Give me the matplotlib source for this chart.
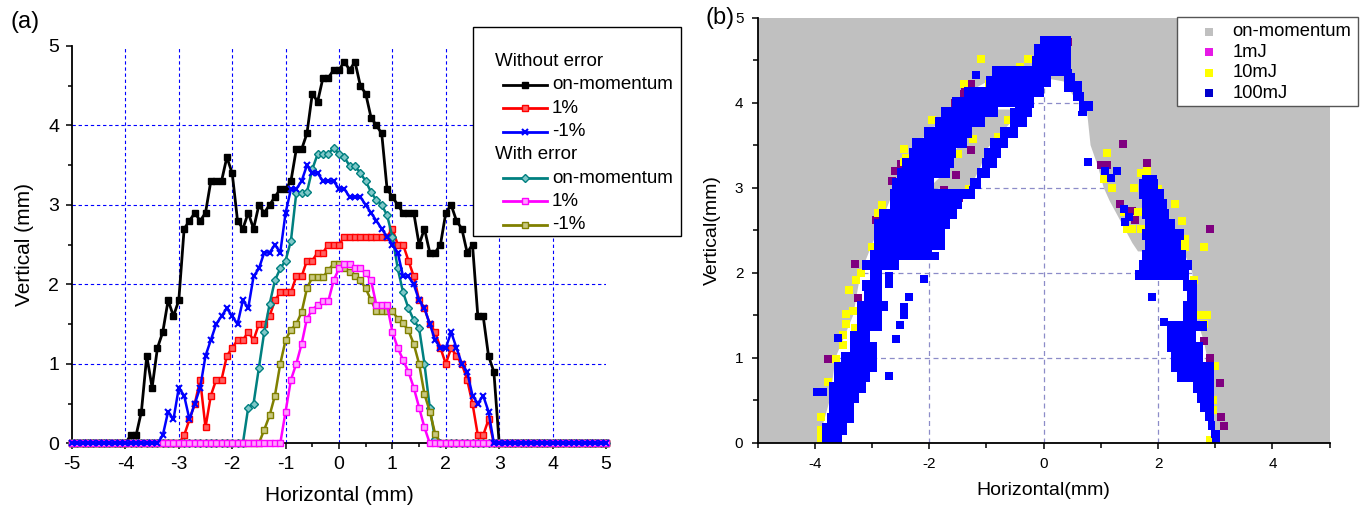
import numpy as np
import matplotlib
matplotlib.use("Agg")
import matplotlib.pyplot as plt
from matplotlib.lines import Line2D
from matplotlib.offsetbox import AnchoredOffsetbox, VPacker, HPacker, TextArea, DrawingArea

plt.rcParams['font.family'] = ['Liberation Sans', 'DejaVu Sans']
plt.rcParams['axes.unicode_minus'] = False

DPI = 100
W, H = 1366, 516

# ---------------- Panel (a) data ----------------
X_STEP = 0.1
x_a = np.round(np.arange(-50, 51) * X_STEP, 1)

no_err_on = [0, 0, 0, 0, 0, 0, 0, 0, 0, 0, 0,
             0.1, 0.1, 0.4, 1.1, 0.7, 1.2, 1.4, 1.8, 1.6, 1.8,
             2.7, 2.8, 2.9, 2.8, 2.9, 3.3, 3.3, 3.3, 3.6, 3.4,
             2.8, 2.7, 2.9, 2.7, 3.0, 2.9, 3.0, 3.1, 3.2, 3.2,
             3.3, 3.7, 3.7, 3.9, 4.4, 4.3, 4.6, 4.6, 4.7, 4.7,
             4.8, 4.7, 4.8, 4.5, 4.4, 4.1, 4.0, 3.9, 3.2, 3.1,
             3.0, 2.9, 2.9, 2.9, 2.5, 2.7, 2.4, 2.4, 2.5, 2.9,
             3.0, 2.8, 2.7, 2.4, 2.5, 1.6, 1.6, 1.1, 0.9, 0.0,
             0, 0, 0, 0, 0, 0, 0, 0, 0, 0,
             0, 0, 0, 0, 0, 0, 0, 0, 0, 0]

no_err_p1 = [0, 0, 0, 0, 0, 0, 0, 0, 0, 0, 0,
             0, 0, 0, 0, 0, 0, 0, 0, 0, 0,
             0.1, 0.3, 0.5, 0.8, 0.2, 0.6, 0.8, 0.8, 1.1, 1.2,
             1.3, 1.3, 1.4, 1.3, 1.5, 1.5, 1.6, 1.8, 1.9, 1.9,
             1.9, 2.1, 2.1, 2.3, 2.3, 2.4, 2.4, 2.5, 2.5, 2.5,
             2.6, 2.6, 2.6, 2.6, 2.6, 2.6, 2.6, 2.6, 2.6, 2.7,
             2.5, 2.5, 2.3, 2.1, 1.8, 1.7, 1.5, 1.4, 1.2, 1.0,
             1.2, 1.1, 1.0, 0.8, 0.5, 0.1, 0.1, 0.3, 0.0, 0.0,
             0, 0, 0, 0, 0, 0, 0, 0, 0, 0,
             0, 0, 0, 0, 0, 0, 0, 0, 0, 0]

no_err_m1 = [0, 0, 0, 0, 0, 0, 0, 0, 0, 0, 0,
             0, 0, 0, 0, 0, 0, 0.1, 0.4, 0.3, 0.7,
             0.6, 0.3, 0.5, 0.7, 1.1, 1.3, 1.5, 1.6, 1.7, 1.6,
             1.5, 1.8, 1.7, 2.1, 2.2, 2.4, 2.4, 2.5, 2.4, 2.9,
             3.2, 3.2, 3.3, 3.5, 3.4, 3.4, 3.3, 3.3, 3.3, 3.2,
             3.2, 3.1, 3.1, 3.1, 3.0, 2.9, 2.8, 2.7, 2.6, 2.5,
             2.4, 2.1, 2.1, 2.0, 1.8, 1.7, 1.5, 1.3, 1.2, 1.2,
             1.4, 1.2, 1.0, 0.9, 0.6, 0.5, 0.6, 0.4, 0.0, 0.0,
             0, 0, 0, 0, 0, 0, 0, 0, 0, 0,
             0, 0, 0, 0, 0, 0, 0, 0, 0, 0]

err_on = [0, 0, 0, 0, 0, 0, 0, 0, 0, 0, 0,
          0, 0, 0, 0, 0, 0, 0, 0, 0, 0,
          0, 0, 0, 0, 0, 0, 0, 0, 0, 0,
          0, 0, 0.45, 0.5, 0.95, 1.4, 1.75, 2.05, 2.2, 2.3,
          2.55, 3.15, 3.15, 3.16, 3.45, 3.64, 3.64, 3.64, 3.72, 3.64,
          3.6, 3.49, 3.49, 3.4, 3.3, 3.16, 3.06, 3.0, 2.87, 2.6,
          2.2, 1.9, 1.7, 1.55, 1.45, 1.0, 0.45, 0.05, 0, 0,
          0, 0, 0, 0, 0, 0, 0, 0, 0, 0,
          0, 0, 0, 0, 0, 0, 0, 0, 0, 0,
          0, 0, 0, 0, 0, 0, 0, 0, 0, 0]

err_p1 = [0, 0, 0, 0, 0, 0, 0, 0, 0, 0, 0,
          0, 0, 0, 0, 0, 0, 0, 0, 0, 0,
          0, 0, 0, 0, 0, 0, 0, 0, 0, 0,
          0, 0, 0, 0, 0, 0, 0, 0, 0, 0.4,
          0.8, 1.0, 1.25, 1.57, 1.68, 1.74, 1.79, 1.79, 2.05, 2.2,
          2.26, 2.26, 2.21, 2.2, 2.14, 2.05, 1.74, 1.74, 1.74, 1.4,
          1.2, 1.05, 0.9, 0.7, 0.45, 0.2, 0, 0, 0, 0,
          0, 0, 0, 0, 0, 0, 0, 0, 0, 0,
          0, 0, 0, 0, 0, 0, 0, 0, 0, 0,
          0, 0, 0, 0, 0, 0, 0, 0, 0, 0]

err_m1 = [0, 0, 0, 0, 0, 0, 0, 0, 0, 0, 0,
          0, 0, 0, 0, 0, 0, 0, 0, 0, 0,
          0, 0, 0, 0, 0, 0, 0, 0, 0, 0,
          0, 0, 0, 0, 0, 0.17, 0.35, 0.6, 1.0, 1.3,
          1.43, 1.5, 1.65, 1.95, 2.09, 2.09, 2.09, 2.18, 2.26, 2.26,
          2.2, 2.15, 2.1, 2.05, 1.95, 1.8, 1.66, 1.66, 1.66, 1.66,
          1.57, 1.51, 1.42, 1.25, 1.0, 0.62, 0.4, 0.12, 0, 0,
          0, 0, 0, 0, 0, 0, 0, 0, 0, 0,
          0, 0, 0, 0, 0, 0, 0, 0, 0, 0,
          0, 0, 0, 0, 0, 0, 0, 0, 0, 0]

series_a = [
    # label, data, color, marker, mfc, zorder
    ("on-momentum", no_err_on, "#000000", "s", "#000000", 3.0),
    ("1%", no_err_p1, "#ff0000", "s", "#ff6060", 3.1),
    ("-1%", no_err_m1, "#0000ff", "x", "#0000ff", 3.7),
    ("on-momentum", err_on, "#008080", "D", "#7fc8c8", 3.2),
    ("1%", err_p1, "#ff00ff", "s", "#ffa0ff", 3.6),
    ("-1%", err_m1, "#808000", "s", "#c8c880", 3.3),
]
legend_a_rows = [("Without error", None), ("on-momentum", 0), ("1%", 1), ("-1%", 2),
                 ("With error", None), ("on-momentum", 3), ("1%", 4), ("-1%", 5)]

# ---------------- Panel (b) data ----------------
SCAN_X = [-5.0, 5.0]
SCAN_Y = [0.0, 5.0]

STABLE_X = [-3.95, -3.74, -3.64, -3.33, -3.2, -2.9, -2.6, -2.25, -2.0, -1.8, -1.5,
            -1.25, -0.85, -0.2, 0.1,
            0.35, 0.55, 0.75, 0.82, 0.95, 1.05, 1.15, 1.35, 1.55, 1.65, 2.45, 2.6,
            2.65, 2.8, 2.92, 2.94, 2.98]
STABLE_Y = [0.0, 0.5, 1.0, 1.5, 2.0, 2.5, 3.0, 3.5, 3.65, 3.8, 4.0,
            4.15, 4.3, 4.33, 4.28,
            4.25, 4.05, 3.95, 3.5, 3.25, 3.0, 2.85, 2.6, 2.35, 2.25, 2.25, 2.0,
            1.5, 1.2, 0.8, 0.4, 0.0]

ISLAND_X = [-2.0, -1.7, -1.6, -1.4, -1.3, -1.1, -0.85, -0.55, -0.6, -0.8, -1.0, -1.1, -1.25, -1.3]
ISLAND_Y = [3.0, 3.2, 3.4, 3.55, 3.7, 3.8, 3.92, 3.92, 3.75, 3.6, 3.45, 3.25, 3.05, 2.95]

LB_Y = [0.0, 0.17, 0.29, 0.41, 0.53, 0.65, 0.77, 0.89, 1.01, 1.13, 1.25, 1.37, 1.49, 1.61,
        1.73, 1.85, 1.97, 2.09, 2.21, 2.33, 2.45, 2.57, 2.69, 2.81, 2.93, 3.05, 3.17,
        3.29, 3.41, 3.53, 3.65, 3.77, 3.89, 4.01, 4.13, 4.25, 4.37, 4.49, 4.61, 4.78]
LB_XL = [-3.87, -3.87, -3.78, -3.75, -3.75, -3.75, -3.67, -3.67, -3.55, -3.38, -3.38, -3.26,
         -3.26, -3.26, -3.14, -3.17, -3.03, -3.17, -3.03, -2.97, -2.97, -2.97, -2.88, -2.68,
         -2.68, -2.65, -2.56, -2.48, -2.36, -2.3, -2.1, -1.9, -1.8, -1.6, -1.4, -1.0, -0.9,
         -0.2, -0.16, -0.06]
LB_XR = [-3.52, -3.44, -3.32, -3.32, -3.23, -3.11, -3.03, -2.91, -2.91, -2.91, -3.03, -2.82,
         -2.82, -2.73, -2.82, -2.82, -2.82, -2.53, -1.95, -1.72, -1.72, -1.63, -1.51, -1.42,
         -1.2, -1.92, -1.63, -1.57, -1.54, -1.34, -1.25, -1.03, -0.79, -0.16, 0.0, 0.12,
         0.47, 0.47, 0.47, 0.47]

IL_Y = [2.99, 3.05, 3.17, 3.29, 3.41, 3.53, 3.65, 3.77, 3.89, 3.98]
IL_XL = [-1.3, -1.28, -1.16, -1.08, -1.04, -0.93, -0.76, -0.58, -0.58, -0.5]
IL_XR = [-1.1, -1.1, -0.93, -0.81, -0.74, -0.62, -0.44, -0.29, -0.2, -0.16]

RC_Y = [3.84, 3.96, 4.07, 4.19, 4.31, 4.4]
RC_XL = [0.6, 0.61, 0.52, 0.35, 0.35, 0.35]
RC_XR = [0.76, 0.87, 0.7, 0.67, 0.55, 0.5]

RB_Y = [0.0, 0.1, 0.2, 0.31, 0.41, 0.53, 0.65, 0.77, 0.89, 1.01, 1.13, 1.25, 1.37, 1.49,
        1.61, 1.73, 1.85, 1.97, 2.09, 2.21, 2.33, 2.45, 2.57, 2.69, 2.81, 2.93, 3.05, 3.15]
RB_XL = [2.94, 2.94, 2.88, 2.82, 2.74, 2.68, 2.62, 2.33, 2.22, 2.22, 2.16, 2.16, 2.16, 2.44,
         2.44, 2.5, 2.44, 1.6, 1.66, 1.72, 1.77, 1.72, 1.77, 1.72, 1.72, 1.66, 1.66, 1.72]
RB_XR = [3.09, 3.09, 3.0, 2.97, 2.97, 2.97, 2.97, 2.97, 2.97, 2.79, 2.79, 2.67, 2.85, 2.68,
         2.68, 2.68, 2.68, 2.55, 2.6, 2.49, 2.4, 2.45, 2.3, 2.2, 2.15, 2.1, 2.0, 1.98]

BLUE_X = [-3.97, -3.85, -3.6, -2.7, -2.59, -2.52, -2.45, -2.45, -2.35, -2.7, -2.7, -2.1,
          -1.9, -1.19, 0.78, 1.08, 1.17, 1.28, 1.4, 1.5, 1.43, 2.1, 1.9, 3.0]
BLUE_Y = [0.6, 0.6, 1.23, 0.79, 1.22, 1.38, 1.5, 1.6, 1.72, 1.87, 1.96, 1.93,
          2.2, 4.32, 3.3, 3.2, 3.12, 3.2, 2.75, 2.65, 2.6, 1.42, 1.72, 0.1]

YELLOW_X = [-3.9, -3.9, -3.76, -3.9, -3.77, -3.63, -3.5, -3.5, -3.45, -3.45, -3.33, -3.3,
            -3.4, -3.28, -3.2, -3.0, -2.9, -2.83, -2.52, -2.45, -2.4, -2.45, -2.03, -1.95,
            -2.0, -1.39, -1.1, -1.1, -0.95, -0.42, -0.28, -1.22, -1.33, -1.24, -0.8, -0.63,
            -1.5, -1.3, -1.56, -1.82, -1.72,
            1.1, 1.7, 1.8, 1.06, 1.2, 1.58, 1.9, 2.0, 1.4, 1.65, 2.3, 1.45, 1.55, 1.7,
            2.42, 2.47, 2.47, 2.8, 2.63, 2.73, 2.85, 2.8, 2.9, 3.0, 2.96, 2.96, 2.9]
YELLOW_Y = [0.05, 0.15, 0.1, 0.3, 0.72, 0.99, 1.15, 1.27, 1.4, 1.52, 1.55, 1.35,
            1.8, 1.92, 2.0, 2.3, 2.7, 2.8, 2.95, 3.45, 3.35, 3.3, 3.62, 3.8,
            3.6, 4.22, 4.51, 4.1, 4.22, 4.42, 4.52, 4.02, 3.9, 3.57, 3.6, 3.8,
            3.4, 2.98, 2.85, 2.8, 2.78,
            3.41, 3.17, 3.2, 3.1, 3.0, 3.0, 2.98, 2.98, 2.71, 2.71, 2.81, 2.51, 2.51, 2.51,
            2.61, 2.4, 2.3, 2.3, 1.91, 1.5, 1.5, 1.4, 0.9, 0.9, 0.5, 0.38, 0.03]

PURPLE_X = [-3.77, -3.24, -3.3, -2.93, -2.66, -2.6, -2.5, -1.5, -1.38, -1.27, -1.39, -1.55,
            -1.27, -1.53, -1.75, -1.48, -2.5, 0.15, 0.42,
            1.39, 1.0, 1.1, 1.81, 1.34, 1.55, 1.6, 2.9, 2.78, 2.8, 2.9, 3.08, 3.1, 3.15]
PURPLE_Y = [0.99, 1.7, 2.1, 2.62, 3.08, 3.2, 3.28, 4.0, 4.13, 4.22, 4.1, 4.0,
            3.44, 3.15, 2.97, 2.88, 3.17, 4.72, 4.72,
            3.51, 3.27, 3.27, 3.29, 2.81, 2.72, 2.62, 2.51, 1.5, 1.2, 1.0, 0.7, 0.3, 0.2]

legend_b = [("on-momentum", "#c0c0c0"), ("1mJ", "#e619e6"), ("10mJ", "#ffff00"), ("100mJ", "#0000cc")]

GRAY = "#c0c0c0"
BLUE = "#0000ff"
YELLOW = "#ffff00"
PURPLE = "#800080"


def pt(px):
    return px * 72.0 / DPI


fig = plt.figure(figsize=(W / DPI, H / DPI), dpi=DPI)
fig.patch.set_facecolor("white")

# ======================= Panel (a) =======================
ax1 = fig.add_axes([72 / W, (H - 443.3) / H, (606 - 72) / W, (443.3 - 46) / H])
for gx in range(-4, 5):
    ax1.axvline(gx, color="#0000ff", lw=0.8, ls=(0, (3, 2.5)), zorder=1)
for gy in range(1, 5):
    ax1.axhline(gy, color="#0000ff", lw=0.8, ls=(0, (3, 2.5)), zorder=1)

for lab, data, col, mk, mfc, zo in series_a:
    lw = 2.0 if col == "#000000" else 1.8
    ax1.plot(x_a, data, color=col, lw=lw, marker=mk, ms=4.0 if mk != "x" else 4.6,
             mfc=mfc, mec=col, mew=1.0 if mk != "x" else 1.5, zorder=zo, clip_on=False)

ax1.set_xlim(-5, 5)
ax1.set_ylim(0, 5)
ax1.set_xticks(range(-5, 6))
ax1.set_xticks(np.arange(-5, 5.01, 0.5), minor=True)
ax1.set_yticks(range(0, 6))
ax1.set_yticks(np.arange(0, 5.01, 0.5), minor=True)
ax1.tick_params(which="major", length=pt(6), width=1.1, direction="out", labelsize=14, pad=5)
ax1.tick_params(which="minor", length=pt(4), width=1.1, direction="out")
for s in ["top", "right"]:
    ax1.spines[s].set_visible(False)
for s in ["left", "bottom"]:
    ax1.spines[s].set_linewidth(1.3)
ax1.set_xlabel("Horizontal (mm)", fontsize=15, labelpad=9)
ax1.set_ylabel("Vertical (mm)", fontsize=15, labelpad=10)

# custom legend for (a)
fs_a = 13.5
row_h = pt(23.3)
rows = [DrawingArea(1, pt(23), 0, 0)]
for lab, idx in legend_a_rows:
    if idx is None:
        rows.append(HPacker(children=[DrawingArea(pt(22), row_h, 0, 0),
                                      TextArea(lab, textprops=dict(fontsize=fs_a))],
                            align="center", pad=0, sep=0))
    else:
        _, _, col, mk, mfc, _ = series_a[idx]
        hl = pt(44)
        da = DrawingArea(hl, row_h, 0, 0)
        da.add_artist(Line2D([0, hl], [row_h / 2, row_h / 2], color=col, lw=2.0))
        da.add_artist(Line2D([hl / 2], [row_h / 2], color=col, marker=mk, ms=4.2,
                             mfc=mfc, mec=col, mew=1.0 if mk != "x" else 1.5, ls="none"))
        rows.append(HPacker(children=[DrawingArea(pt(30), row_h, 0, 0), da,
                                      DrawingArea(pt(5), row_h, 0, 0),
                                      TextArea(lab, textprops=dict(fontsize=fs_a)),
                                      DrawingArea(pt(8), row_h, 0, 0)],
                            align="center", pad=0, sep=0))
box_a = VPacker(children=rows, align="left", pad=0, sep=0)
anch_a = AnchoredOffsetbox(loc="upper left", child=box_a, pad=0, borderpad=0, frameon=True,
                           bbox_to_anchor=(473 / W, 1 - 27 / H), bbox_transform=fig.transFigure)
anch_a.patch.set_edgecolor("black")
anch_a.patch.set_linewidth(1.0)
anch_a.patch.set_facecolor("white")
anch_a.set_zorder(10)
ax1.add_artist(anch_a)

fig.text(25 / W, 1 - 22 / H, "(a)", fontsize=17, ha="center", va="center")

# ======================= Panel (b) =======================
ax2 = fig.add_axes([757.7 / W, (H - 442.7) / H, (1329.6 - 757.7) / W, (442.7 - 17.7) / H])
ax2.set_xlim(-5, 5)
ax2.set_ylim(0, 5)

# on-momentum lost region (gray) = scan area minus stable region
ax2.fill_between(SCAN_X, SCAN_Y[0], SCAN_Y[1], color=GRAY, lw=0, zorder=0.5)
stable = ax2.fill(STABLE_X, STABLE_Y, color="white", lw=0, zorder=0.6)[0]
for gx in [-2, 0, 2]:
    ln = ax2.axvline(gx, color="#8c8cc8", lw=0.9, ls=(0, (4, 3)), zorder=0.7)
    ln.set_clip_path(stable)
for gy in [1, 2, 3, 4]:
    ln = ax2.axhline(gy, color="#8c8cc8", lw=0.9, ls=(0, (4, 3)), zorder=0.7)
    ln.set_clip_path(stable)
ax2.fill(ISLAND_X, ISLAND_Y, color=GRAY, lw=0, zorder=0.8)

msq = pt(8.5)
ax2.plot(PURPLE_X, PURPLE_Y, ls="none", marker="s", ms=msq, mfc=PURPLE, mew=0, zorder=2.0)
ax2.plot(YELLOW_X, YELLOW_Y, ls="none", marker="s", ms=msq, mfc=YELLOW, mew=0, zorder=2.1)
for yy, xl, xr in [(LB_Y, LB_XL, LB_XR), (IL_Y, IL_XL, IL_XR), (RC_Y, RC_XL, RC_XR),
                   (RB_Y, RB_XL, RB_XR)]:
    ax2.fill_betweenx(yy, xl, xr, step="mid", color=BLUE, lw=0, zorder=2.2)
ax2.plot(BLUE_X, BLUE_Y, ls="none", marker="s", ms=msq, mfc=BLUE, mew=0, zorder=2.2)

ax2.set_xticks([-4, -2, 0, 2, 4])
ax2.set_xticks([-5, -3, -1, 1, 3, 5], minor=True)
ax2.set_yticks(range(0, 6))
ax2.set_yticks(np.arange(0.5, 5, 1.0), minor=True)
ax2.tick_params(which="major", length=pt(6), width=1.1, direction="out", labelsize=11, pad=6)
ax2.tick_params(which="minor", length=pt(5), width=1.1, direction="out")
for s in ["top", "right"]:
    ax2.spines[s].set_visible(False)
for s in ["left", "bottom"]:
    ax2.spines[s].set_linewidth(1.3)
    ax2.spines[s].set_zorder(3)
ax2.set_xlabel("Horizontal(mm)", fontsize=14, labelpad=8)
ax2.set_ylabel("Vertical(mm)", fontsize=14, labelpad=10)

# legend (b)
fs_b = 13.2
rh_b = pt(20.5)
rows_b = [DrawingArea(1, pt(4), 0, 0)]
for lab, col in legend_b:
    da = DrawingArea(pt(14), rh_b, 0, 0)
    da.add_artist(Line2D([pt(7)], [rh_b / 2], marker="s", ms=pt(7.5), color=col, ls="none", mew=0))
    rows_b.append(HPacker(children=[DrawingArea(pt(25), rh_b, 0, 0), da,
                                    DrawingArea(pt(17), rh_b, 0, 0),
                                    TextArea(lab, textprops=dict(fontsize=fs_b)),
                                    DrawingArea(pt(6), rh_b, 0, 0)],
                          align="center", pad=0, sep=0))
rows_b.append(DrawingArea(1, pt(3), 0, 0))
box_b = VPacker(children=rows_b, align="left", pad=0, sep=0)
anch_b = AnchoredOffsetbox(loc="upper left", child=box_b, pad=0, borderpad=0, frameon=True,
                           bbox_to_anchor=(1176.7 / W, 1 - 17.3 / H), bbox_transform=fig.transFigure)
anch_b.patch.set_edgecolor("#555555")
anch_b.patch.set_linewidth(1.0)
anch_b.patch.set_facecolor("white")
anch_b.set_zorder(10)
ax2.add_artist(anch_b)

fig.text(720 / W, 1 - 18 / H, "(b)", fontsize=17, ha="center", va="center")

fig.savefig("out.png", dpi=DPI)
